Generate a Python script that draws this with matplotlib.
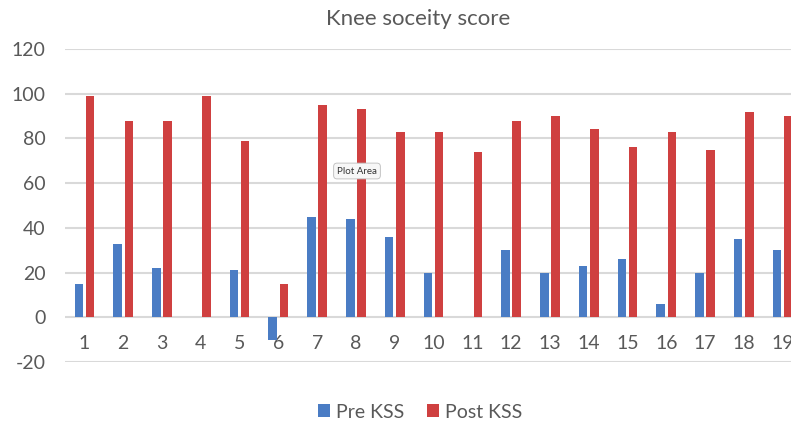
import matplotlib.pyplot as plt
import numpy as np

plt.rcParams['font.family'] = ['Lato', 'DejaVu Sans']
plt.rcParams['axes.unicode_minus'] = False

CATEGORIES = [str(i) for i in range(1, 20)]
PRE_KSS = [15, 33, 22, 0, 21, -10, 45, 44, 36, 20, 0, 30, 20, 23, 26, 6, 20, 35, 30]
POST_KSS = [99, 88, 88, 99, 79, 15, 95, 93, 83, 83, 74, 88, 90, 84, 76, 83, 75, 92, 90]
Y_TICKS = [-20, 0, 20, 40, 60, 80, 100, 120]

BLUE = '#4A7CC4'
RED = '#CF4040'
GRID = '#D9D9D9'
TEXT = '#595959'

fig = plt.figure(figsize=(7.91, 4.25), dpi=100)
# chart is clipped at the right edge in the reference, so the axes run past it
ax = fig.add_axes([65 / 791, 1 - 362 / 425, 737 / 791, 313 / 425])

x = np.arange(len(CATEGORIES))
w = 0.22
ax.bar(x - 0.145, PRE_KSS, width=w, color=BLUE, label='Pre KSS', zorder=3)
ax.bar(x + 0.145, POST_KSS, width=w, color=RED, label='Post KSS', zorder=3)

ax.set_xlim(-0.5, len(CATEGORIES) - 0.5)
ax.set_ylim(-20, 120)
ax.set_yticks(Y_TICKS)
ax.yaxis.grid(True, color=GRID, linewidth=1.5, zorder=0)
ax.tick_params(axis='y', length=0, pad=14, labelsize=14, labelcolor=TEXT)

ax.set_xticks(x)
ax.set_xticklabels(CATEGORIES)
ax.spines['bottom'].set_position(('data', 0))
ax.tick_params(axis='x', length=0, pad=13, labelsize=14, labelcolor=TEXT)
for s in ax.spines.values():
    s.set_visible(False)

fig.text(418 / 791, 1 - 19 / 425, 'Knee soceity score', ha='center', va='center',
         fontsize=16, color=TEXT)

fig.legend(loc='center', bbox_to_anchor=(420 / 791, 1 - 412 / 425), ncol=2,
           frameon=False, fontsize=14, labelcolor=TEXT, handlelength=0.6,
           handleheight=0.6, handletextpad=0.3, columnspacing=1.2)

# the "Plot Area" tooltip captured in the screenshot
fig.text(357 / 791, 1 - 171 / 425, 'Plot Area', ha='center', va='center',
         fontsize=7, color='#333333',
         bbox=dict(boxstyle='round,pad=0.35', fc='#F7F7F7', ec='#BBBBBB', lw=0.6))

fig.savefig('out.png', dpi=100)
